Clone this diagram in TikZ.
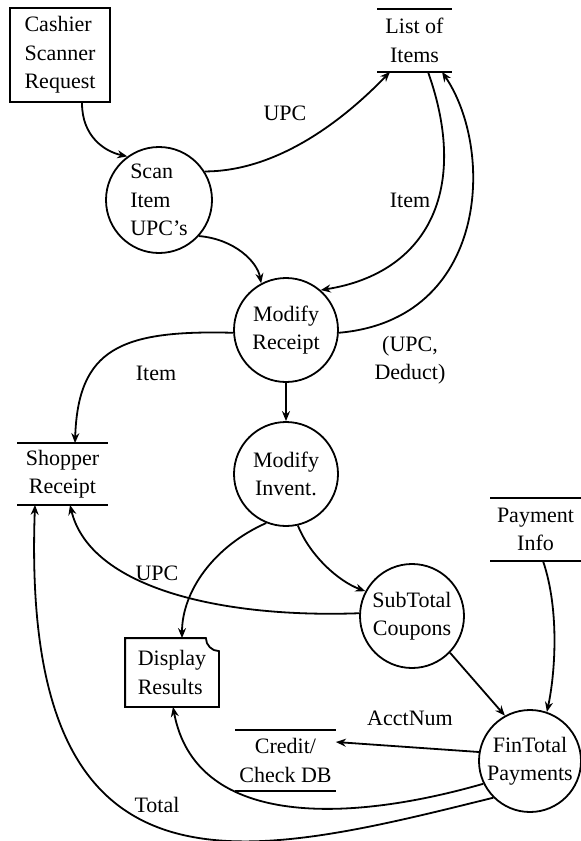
\documentclass[tikz,border=0pt]{standalone}
\usepackage{fontspec}
\setmainfont{Liberation Serif}
\usetikzlibrary{arrows.meta}
\begin{document}
\begin{tikzpicture}[x=1pt,y=-1pt,
  line width=1.8pt,
  every node/.style={font=\fontsize{22}{28.5}\selectfont, inner sep=0pt},
  process/.style={circle, draw, minimum size=104pt, align=center},
  extbox/.style={draw, line width=2.4pt, minimum width=100pt, minimum height=94pt, align=left},
  store/.style={align=center},
  flow/.style={-{Stealth[length=10pt,width=8pt]}}]

\fill[white] (0,0) rectangle (581,841);
\useasboundingbox (0,0) rectangle (581,841);

% external entity, processes and data stores
\node[extbox] (cashier) at (60,55) {Cashier\\Scanner\\Request};
\node[store, minimum width=73pt, minimum height=61pt] (items) at (414.5,40.5) {List of\\Items};
\node[process, minimum size=106pt, align=left] (scan) at (159,200) {Scan\\Item\\UPC's};
\node[process] (modrec) at (286,330) {Modify\\Receipt};
\node[process] (modinv) at (286,474) {Modify\\Invent.};
\node[store, minimum width=89pt, minimum height=60pt] (shopper) at (62.5,474) {Shopper\\Receipt};
\node[store, minimum width=89pt, minimum height=61pt] (payinfo) at (535.5,529.5) {Payment\\Info};
\node[process] (subtot) at (412,616) {SubTotal\\Coupons};
\node[process, minimum size=102pt] (fintot) at (530,761) {FinTotal\\Payments};
\node[minimum width=92pt, minimum height=67pt, align=left] (disp) at (172,672.5) {Display\\Results};
\node[store, minimum width=99pt, minimum height=59pt] (credit) at (285.5,760.5) {Credit/\\Check DB};

% data stores: open boxes with a rule above and below
\foreach \s in {items,shopper,payinfo,credit}
  \draw (\s.north west) -- (\s.north east) (\s.south west) -- (\s.south east);

% display output: box with a notched corner
\draw (disp.south west) -- (disp.north west) -- ([xshift=-13pt]disp.north east)
  .. controls +(0,7) and +(-7,0) .. ([yshift=-13pt]disp.north east)
  -- (disp.south east) -- cycle;

% flow labels
\node (lupc) at (285,113) {UPC};
\node (litem) at (410,200) {Item};
\node (litem2) at (156,373) {Item};
\node[align=center] (ldeduct) at (410,360) {(UPC,\\Deduct)};
\node (lupc2) at (157,573) {UPC};
\node (lacct) at (410,718) {AcctNum};
\node (ltotal) at (157,805) {Total};

% data flows
\draw[flow] ([xshift=22pt]cashier.south) .. controls +(0,33) and +(-23,-5) .. (scan.126);
\draw[flow] (scan.32) .. controls +(66,0) and +(-55,57) .. ([xshift=-24.5pt]items.south);
\draw[flow] (scan.-42) .. controls +(35,3) and +(-4,-22) .. (modrec.118);
\draw[flow] ([xshift=13.5pt]items.south) .. controls +(42,118) and +(107,-17) .. (modrec.49);
\draw[flow] (modrec.-3) .. controls +(150,-13) and +(53,78) .. ([xshift=27.5pt]items.south);
\draw[flow] (modrec.183) .. controls +(-113,-3) and +(3,-94) .. ([xshift=12.5pt]shopper.north);
\draw[flow] (modrec) -- (modinv);
\draw[flow] (modinv.-112) .. controls +(-52,23) and +(0,-47) .. ([xshift=10pt]disp.north);
\draw[flow] (modinv.-77) .. controls +(12,30) and +(-27,-10) .. (subtot.152);
\draw[flow] (subtot.177) .. controls +(-138,5) and +(20,83) .. ([xshift=7.5pt]shopper.south);
\draw[flow] (subtot.-44) -- (fintot.119);
\draw[flow] ([xshift=7.5pt]payinfo.south) .. controls +(17,50) and +(8,-37) .. (fintot.71);
\draw[flow] (fintot.170) -- ([yshift=18.5pt]credit.east);
\draw[flow] (fintot.206) .. controls +(-143,41) and +(22,118) .. ([xshift=1pt]disp.south);
\draw[flow] (fintot.225) .. controls +(-250,62) and +(-15,412) .. ([xshift=-27.5pt]shopper.south);
\end{tikzpicture}
\end{document}
